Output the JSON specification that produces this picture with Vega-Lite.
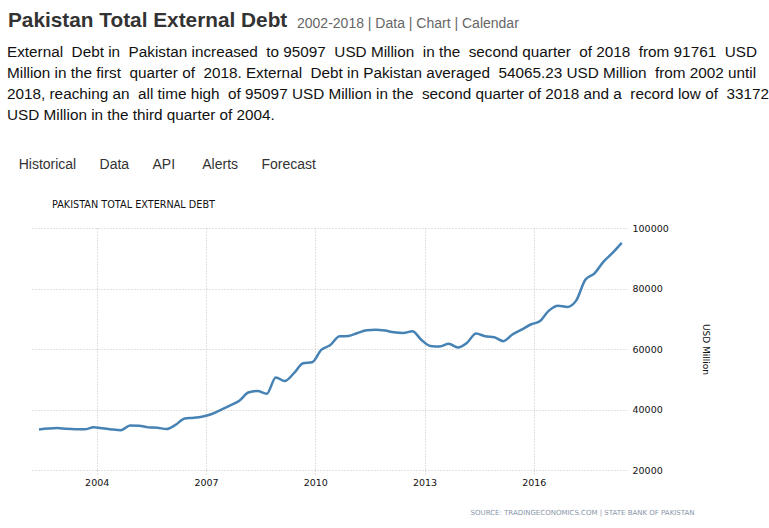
{
  "$schema": "https://vega.github.io/schema/vega-lite/v6.json",
  "background": "white",
  "padding": {"left": 7, "top": 10, "right": 5, "bottom": 8},
  "title": {
    "text": "Pakistan Total External Debt",
    "anchor": "start",
    "frame": "group",
    "dx": -22,
    "limit": 800,
    "font": "Liberation Sans",
    "fontSize": 20.8,
    "fontWeight": "bold",
    "color": "#333333",
    "offset": -15.5
  },
  "vconcat": [
    {
      "title": {
        "text": "2002-2018 | Data | Chart | Calendar",
        "anchor": "start",
        "frame": "group",
        "dx": 267,
        "limit": 800,
        "font": "Liberation Sans",
        "fontSize": 14,
        "fontWeight": "normal",
        "color": "#666666",
        "offset": 14.5
      },
      "vconcat": [
        {
          "title": {
            "text": [
              "External\u00a0 Debt in\u00a0 Pakistan increased\u00a0 to 95097\u00a0 USD Million\u00a0 in the\u00a0 second quarter\u00a0 of 2018\u00a0 from 91761\u00a0 USD",
              "Million in the first\u00a0 quarter of\u00a0 2018. External\u00a0 Debt in Pakistan averaged\u00a0 54065.23 USD Million\u00a0 from 2002 until",
              "2018, reaching an\u00a0 all time high\u00a0 of 95097 USD Million in the\u00a0 second quarter of 2018 and a\u00a0 record low of\u00a0 33172",
              "USD Million in the third quarter of 2004."
            ],
            "subtitle": "\u200b\u00a0\u00a0\u00a0Historical\u00a0\u00a0\u00a0\u00a0\u00a0\u00a0Data\u00a0\u00a0\u00a0\u00a0\u00a0\u00a0API\u00a0\u00a0\u00a0\u00a0\u00a0\u00a0\u00a0Alerts\u00a0\u00a0\u00a0\u00a0\u00a0\u00a0Forecast",
            "anchor": "start",
            "frame": "group",
            "dx": -23,
            "limit": 800,
            "font": "Liberation Sans",
            "fontSize": 15.3,
            "fontWeight": "normal",
            "lineHeight": 21,
            "color": "#111111",
            "subtitleFont": "Liberation Sans",
            "subtitleFontSize": 14,
            "subtitleColor": "#333333",
            "subtitlePadding": 35,
            "offset": 28
          },
          "vconcat": [
            {
              "width": 597,
              "height": 242,
              "title": {
                "text": "PAKISTAN TOTAL EXTERNAL DEBT",
                "anchor": "start",
                "frame": "group",
                "dx": 22,
                "font": "DejaVu Sans",
                "fontSize": 9.7,
                "fontWeight": "normal",
                "color": "#111111",
                "offset": 13
              },
              "data": {
                "values": [
                  {"date": "2002-06-01", "value": 33400},
                  {"date": "2002-09-01", "value": 33700},
                  {"date": "2002-12-01", "value": 33870},
                  {"date": "2003-03-01", "value": 33600},
                  {"date": "2003-06-01", "value": 33450},
                  {"date": "2003-09-01", "value": 33430},
                  {"date": "2003-12-01", "value": 34100},
                  {"date": "2004-03-01", "value": 33800},
                  {"date": "2004-06-01", "value": 33400},
                  {"date": "2004-09-01", "value": 33172},
                  {"date": "2004-12-01", "value": 34750},
                  {"date": "2005-03-01", "value": 34650},
                  {"date": "2005-06-01", "value": 34090},
                  {"date": "2005-09-01", "value": 33950},
                  {"date": "2005-12-01", "value": 33550},
                  {"date": "2006-03-01", "value": 34900},
                  {"date": "2006-06-01", "value": 37000},
                  {"date": "2006-09-01", "value": 37250},
                  {"date": "2006-12-01", "value": 37700},
                  {"date": "2007-03-01", "value": 38500},
                  {"date": "2007-06-01", "value": 39900},
                  {"date": "2007-09-01", "value": 41350},
                  {"date": "2007-12-01", "value": 42900},
                  {"date": "2008-03-01", "value": 45600},
                  {"date": "2008-06-01", "value": 46100},
                  {"date": "2008-09-01", "value": 45200},
                  {"date": "2008-12-01", "value": 50600},
                  {"date": "2009-03-01", "value": 49400},
                  {"date": "2009-06-01", "value": 52000},
                  {"date": "2009-09-01", "value": 55300},
                  {"date": "2009-12-01", "value": 55600},
                  {"date": "2010-03-01", "value": 59700},
                  {"date": "2010-06-01", "value": 61300},
                  {"date": "2010-09-01", "value": 64200},
                  {"date": "2010-12-01", "value": 64300},
                  {"date": "2011-03-01", "value": 65300},
                  {"date": "2011-06-01", "value": 66200},
                  {"date": "2011-09-01", "value": 66400},
                  {"date": "2011-12-01", "value": 66100},
                  {"date": "2012-03-01", "value": 65500},
                  {"date": "2012-06-01", "value": 65300},
                  {"date": "2012-09-01", "value": 65850},
                  {"date": "2012-12-01", "value": 63000},
                  {"date": "2013-03-01", "value": 61000},
                  {"date": "2013-06-01", "value": 60800},
                  {"date": "2013-09-01", "value": 61700},
                  {"date": "2013-12-01", "value": 60500},
                  {"date": "2014-03-01", "value": 62000},
                  {"date": "2014-06-01", "value": 65100},
                  {"date": "2014-09-01", "value": 64200},
                  {"date": "2014-12-01", "value": 63900},
                  {"date": "2015-03-01", "value": 62600},
                  {"date": "2015-06-01", "value": 64800},
                  {"date": "2015-09-01", "value": 66400},
                  {"date": "2015-12-01", "value": 68100},
                  {"date": "2016-03-01", "value": 69200},
                  {"date": "2016-06-01", "value": 72700},
                  {"date": "2016-09-01", "value": 74300},
                  {"date": "2016-12-01", "value": 73900},
                  {"date": "2017-03-01", "value": 76000},
                  {"date": "2017-06-01", "value": 82900},
                  {"date": "2017-09-01", "value": 85000},
                  {"date": "2017-12-01", "value": 88900},
                  {"date": "2018-03-01", "value": 91761},
                  {"date": "2018-06-01", "value": 95097}
                ]
              },
              "mark": {"type": "line", "interpolate": "monotone", "color": "#4682b4", "strokeWidth": 2.5},
              "encoding": {
                "x": {
                  "field": "date",
                  "type": "temporal",
                  "scale": {
                    "type": "utc",
                    "domain": [
                      {"year": 2002, "month": 3, "date": 3, "utc": true},
                      {"year": 2018, "month": 7, "date": 24, "utc": true}
                    ]
                  },
                  "axis": {
                    "tickCount": {"interval": "year", "step": 3},
                    "format": "%Y",
                    "labelFont": "DejaVu Sans",
                    "labelFontSize": 9.5,
                    "labelColor": "#111111",
                    "labelPadding": 2,
                    "domain": false,
                    "ticks": true,
                    "tickSize": 5,
                    "tickColor": "#c4c4c4",
                    "tickDash": [1, 2],
                    "grid": true,
                    "gridColor": "#c4c4c4",
                    "gridDash": [1, 2],
                    "title": "SOURCE: TRADINGECONOMICS.COM | STATE BANK OF PAKISTAN",
                    "titleFont": "DejaVu Sans",
                    "titleFontSize": 7,
                    "titleFontWeight": "normal",
                    "titleColor": "#8794a8",
                    "titleAnchor": "end",
                    "titleAlign": "right",
                    "titleX": 664,
                    "titleY": 44,
                    "titleBaseline": "alphabetic"
                  }
                },
                "y": {
                  "field": "value",
                  "type": "quantitative",
                  "scale": {"domain": [20000, 100000]},
                  "axis": {
                    "orient": "right",
                    "values": [20000, 40000, 60000, 80000, 100000],
                    "format": "d",
                    "labelFont": "DejaVu Sans",
                    "labelFontSize": 9.5,
                    "labelColor": "#111111",
                    "labelPadding": 5,
                    "domain": false,
                    "ticks": false,
                    "grid": true,
                    "gridColor": "#c4c4c4",
                    "gridDash": [1, 2],
                    "title": "USD Million",
                    "titleFont": "DejaVu Sans",
                    "titleFontSize": 9,
                    "titleFontWeight": "normal",
                    "titleColor": "#111111",
                    "titlePadding": 32
                  }
                }
              }
            }
          ]
        }
      ]
    }
  ],
  "config": {"view": {"stroke": null}}
}
